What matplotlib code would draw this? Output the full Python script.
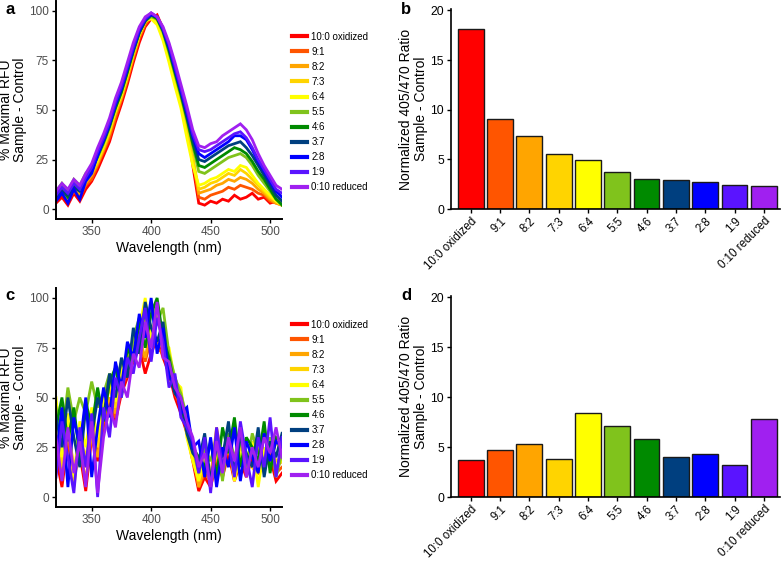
#!/usr/bin/env python3
"""Emission spectra and 405/470 ratios of oxidized/reduced mixtures"""

import numpy as np
import matplotlib; matplotlib.use('Agg')
import matplotlib.pyplot as plt

plt.rcParams['font.family'] = ['Liberation Sans', 'DejaVu Sans']

MIXES = ['10:0 oxidized', '9:1', '8:2', '7:3', '6:4', '5:5', '4:6', '3:7',
         '2:8', '1:9', '0:10 reduced']
COLORS = ['#ff0000', '#ff5500', '#ffa500', '#ffd400', '#ffff00', '#80c31c',
          '#008a00', '#003f7f', '#0000ff', '#5a14ff', '#a020f0']

WAVE = list(range(320, 511, 5))

# panel a, spectra (% maximal RFU)
A_10_0 = [3, 6, 2, 8, 4, 10, 14, 20, 27, 34, 44, 53, 63, 74, 84, 92, 96, 98, 91, 80,
          69, 57, 43, 22, 3, 2, 4, 3, 5, 4, 7, 5, 6, 8, 5, 6, 3, 4, 2]
A_9_1 = [5, 8, 4, 9, 6, 12, 15, 22, 29, 36, 46, 55, 65, 76, 86, 93, 97, 97, 90, 80,
         69, 57, 44, 25, 6, 5, 7, 8, 9, 11, 10, 12, 11, 10, 8, 7, 4, 3, 2]
A_8_2 = [6, 9, 5, 10, 7, 13, 17, 23, 30, 38, 48, 56, 66, 77, 87, 94, 98, 96, 89, 79,
         68, 56, 43, 25, 8, 9, 10, 12, 13, 15, 14, 16, 15, 13, 10, 8, 5, 3, 2]
A_7_3 = [7, 10, 6, 12, 9, 14, 18, 24, 31, 39, 49, 57, 67, 78, 88, 95, 97, 95, 88, 78,
         66, 55, 41, 26, 10, 11, 13, 14, 16, 18, 17, 20, 18, 15, 12, 9, 6, 4, 2]
A_6_4 = [8, 11, 7, 13, 10, 16, 19, 25, 32, 40, 50, 58, 68, 79, 88, 95, 96, 93, 85, 74,
         62, 51, 36, 22, 12, 13, 15, 16, 18, 20, 19, 22, 21, 17, 13, 10, 7, 4, 2]
A_5_5 = [9, 13, 9, 15, 12, 18, 21, 26, 33, 41, 51, 59, 69, 79, 89, 95, 97, 96, 89, 79,
         68, 57, 45, 32, 19, 18, 20, 22, 24, 26, 27, 28, 26, 22, 17, 13, 9, 5, 3]
A_4_6 = [5, 10, 6, 12, 10, 16, 20, 27, 34, 42, 51, 59, 69, 80, 89, 95, 98, 96, 90, 80,
         69, 58, 46, 33, 22, 21, 23, 25, 27, 29, 31, 30, 28, 24, 19, 15, 10, 5, 2]
A_3_7 = [6, 9, 7, 11, 9, 15, 19, 27, 34, 42, 52, 60, 70, 80, 89, 95, 98, 97, 90, 81,
         70, 59, 47, 35, 25, 24, 26, 28, 30, 32, 33, 34, 31, 27, 22, 17, 12, 7, 4]
A_2_8 = [4, 8, 3, 10, 5, 14, 18, 27, 35, 43, 53, 61, 71, 81, 90, 96, 98, 97, 91, 82,
         71, 60, 49, 37, 28, 26, 28, 30, 32, 34, 37, 37, 35, 30, 24, 19, 14, 9, 6]
A_1_9 = [7, 11, 8, 13, 10, 16, 21, 29, 36, 44, 54, 62, 72, 82, 91, 96, 99, 97, 91, 83,
         72, 61, 50, 38, 30, 29, 30, 32, 34, 36, 38, 39, 36, 31, 25, 20, 15, 10, 8]
A_0_10 = [9, 13, 10, 15, 12, 18, 23, 31, 38, 46, 56, 64, 74, 84, 92, 97, 99, 97, 92, 84,
          74, 63, 52, 40, 32, 31, 33, 34, 37, 39, 41, 43, 40, 35, 28, 22, 17, 12, 10]

# panel c, spectra (% maximal RFU)
C_10_0 = [20, 5, 28, 10, 22, 3, 30, 18, 35, 45, 38, 52, 60, 68, 75, 62, 72, 80, 70, 62,
          50, 42, 32, 18, 3, 10, 5, 18, 10, 22, 8, 18, 10, 20, 12, 15, 20, 8, 12]
C_9_1 = [25, 12, 30, 8, 28, 15, 35, 22, 38, 48, 40, 55, 62, 70, 78, 68, 80, 75, 72, 65,
         52, 45, 35, 20, 5, 12, 8, 20, 15, 25, 10, 20, 12, 25, 15, 18, 22, 12, 15]
C_8_2 = [30, 10, 35, 15, 25, 8, 32, 20, 40, 50, 42, 58, 65, 72, 80, 70, 85, 78, 75, 70,
         55, 45, 38, 22, 5, 15, 10, 35, 18, 25, 10, 22, 15, 28, 12, 20, 25, 15, 18]
C_7_3 = [35, 15, 40, 5, 30, 20, 38, 25, 42, 55, 45, 60, 70, 75, 82, 90, 78, 92, 80, 68,
         60, 50, 35, 20, 10, 18, 8, 22, 15, 28, 12, 25, 20, 15, 25, 12, 28, 18, 20]
C_6_4 = [50, 20, 42, 10, 38, 25, 45, 30, 50, 58, 48, 65, 72, 78, 85, 100, 80, 95, 78, 75,
         58, 55, 30, 18, 8, 20, 5, 25, 12, 30, 8, 22, 18, 28, 5, 25, 15, 30, 18]
C_5_5 = [45, 30, 55, 38, 50, 42, 58, 45, 52, 62, 55, 68, 62, 80, 90, 82, 98, 88, 95, 72,
         60, 52, 40, 25, 12, 25, 18, 30, 8, 32, 20, 28, 15, 32, 22, 18, 30, 10, 22]
C_4_6 = [35, 50, 28, 45, 20, 48, 35, 55, 38, 58, 65, 50, 75, 68, 88, 75, 92, 100, 80, 70,
         55, 50, 35, 25, 20, 15, 28, 10, 35, 22, 40, 15, 30, 25, 18, 38, 12, 30, 28]
C_3_7 = [40, 25, 50, 30, 15, 45, 30, 50, 40, 62, 50, 70, 60, 85, 72, 98, 85, 78, 88, 62,
         52, 48, 32, 22, 18, 32, 8, 25, 20, 38, 12, 30, 22, 15, 35, 10, 28, 20, 32]
C_2_8 = [20, 45, 5, 40, 25, 50, 10, 35, 55, 40, 68, 55, 78, 70, 92, 80, 100, 72, 85, 60,
         58, 42, 45, 25, 28, 10, 30, 5, 25, 15, 35, 8, 28, 20, 12, 32, 18, 28, 25]
C_1_9 = [10, 38, 20, 2, 35, 15, 42, 0, 45, 30, 60, 50, 70, 62, 80, 95, 68, 90, 78, 55,
         62, 40, 35, 28, 12, 30, 2, 35, 15, 28, 10, 38, 20, 5, 30, 15, 40, 10, 30]
C_0_10 = [30, 8, 35, 12, 28, 5, 38, 2, 30, 45, 35, 58, 50, 72, 65, 88, 75, 98, 70, 68,
          55, 50, 38, 30, 15, 22, 5, 28, 12, 30, 18, 35, 10, 25, 15, 30, 22, 35, 20]

# panels b and d, normalized 405/470 ratio
RATIO_B = [18.1, 9.05, 7.4, 5.5, 4.95, 3.7, 3.0, 2.92, 2.72, 2.45, 2.28]
RATIO_D = [3.7, 4.7, 5.33, 3.83, 8.4, 7.07, 5.77, 4.0, 4.33, 3.23, 7.8]

SPEC_A = [A_10_0, A_9_1, A_8_2, A_7_3, A_6_4, A_5_5, A_4_6, A_3_7, A_2_8, A_1_9, A_0_10]
SPEC_C = [C_10_0, C_9_1, C_8_2, C_7_3, C_6_4, C_5_5, C_4_6, C_3_7, C_2_8, C_1_9, C_0_10]

W, H = 783, 561

##########################################################
def px_axes(fig, left, top, right, bottom):
    """Axes from pixel box (top-left origin)"""
    return fig.add_axes([left / W, (H - bottom) / H, (right - left) / W,
                         (bottom - top) / H])

##########################################################
def plot_spectra(fig, ax, spectra, legy):
    """Line plot of the spectra with legend on the right."""
    for vals, col in zip(spectra, COLORS):
        ax.plot(WAVE, vals, color=col, lw=2.0, solid_joinstyle='miter')
    ax.set_xlim(320, 510)
    ax.set_ylim(-5, 105)
    ax.set_xticks([350, 400, 450, 500])
    ax.set_yticks([0, 25, 50, 75, 100])
    for s in ['top', 'right']:
        ax.spines[s].set_visible(False)
    for s in ['left', 'bottom']:
        ax.spines[s].set_linewidth(1.4)
    ax.tick_params(length=3, width=1, labelsize=8.5, labelcolor='#4d4d4d', pad=2)
    ax.set_xlabel('Wavelength (nm)', fontsize=10, labelpad=2)
    ax.set_ylabel('% Maximal RFU\nSample - Control', fontsize=10, linespacing=1.05)
    ax.yaxis.set_label_coords(-0.128, 0.5)
    handles = [plt.Line2D([], [], color=c, lw=3) for c in COLORS]
    fig.legend(handles, MIXES, loc='center left', frameon=False, fontsize=7,
               handlelength=1.5, handletextpad=0.5, labelspacing=0.52,
               borderaxespad=0, borderpad=0,
               bbox_to_anchor=(292 / W, 1 - legy / H))

##########################################################
def plot_ratio(ax, vals):
    """Bar plot of the 405/470 ratios."""
    x = np.arange(len(vals))
    ax.bar(x, vals, width=0.88, color=COLORS, edgecolor='#1a1a1a', linewidth=1.0)
    ax.set_xlim(-0.67, 10.55)
    ax.set_ylim(0, 20.15)
    ax.set_yticks([0, 5, 10, 15, 20])
    ax.set_xticks(x)
    ax.set_xticklabels(MIXES, rotation=45, ha='right', rotation_mode='anchor',
                       fontsize=8.3)
    for s in ['top', 'right']:
        ax.spines[s].set_visible(False)
    for s in ['left', 'bottom']:
        ax.spines[s].set_linewidth(1.2)
    ax.tick_params(axis='y', length=3, width=1, labelsize=8.7, pad=2)
    ax.tick_params(axis='x', length=3, width=1, pad=1.5)
    ax.set_ylabel('Normalized 405/470 Ratio\nSample - Control', fontsize=10,
                  linespacing=1.05)
    ax.yaxis.set_label_coords(-0.07, 0.5)

##########################################################
def main():
    fig = plt.figure(figsize=(W / 100, H / 100), dpi=100)

    ax_a = px_axes(fig, 56, 1, 282, 219)
    plot_spectra(fig, ax_a, SPEC_A, 112)
    ax_c = px_axes(fig, 56, 288, 282, 507)
    plot_spectra(fig, ax_c, SPEC_C, 400)

    ax_b = px_axes(fig, 451, 9, 780, 209)
    plot_ratio(ax_b, RATIO_B)
    ax_d = px_axes(fig, 451, 296, 780, 497)
    plot_ratio(ax_d, RATIO_D)

    for lab, x, y in [('a', 5, 9), ('b', 401, 9), ('c', 5, 296), ('d', 401, 296)]:
        fig.text(x / W, 1 - y / H, lab, fontsize=12, fontweight='bold',
                 va='center', ha='left')

    fig.savefig('out.png', dpi=100)

##########################################################
if __name__ == "__main__":
    main()
